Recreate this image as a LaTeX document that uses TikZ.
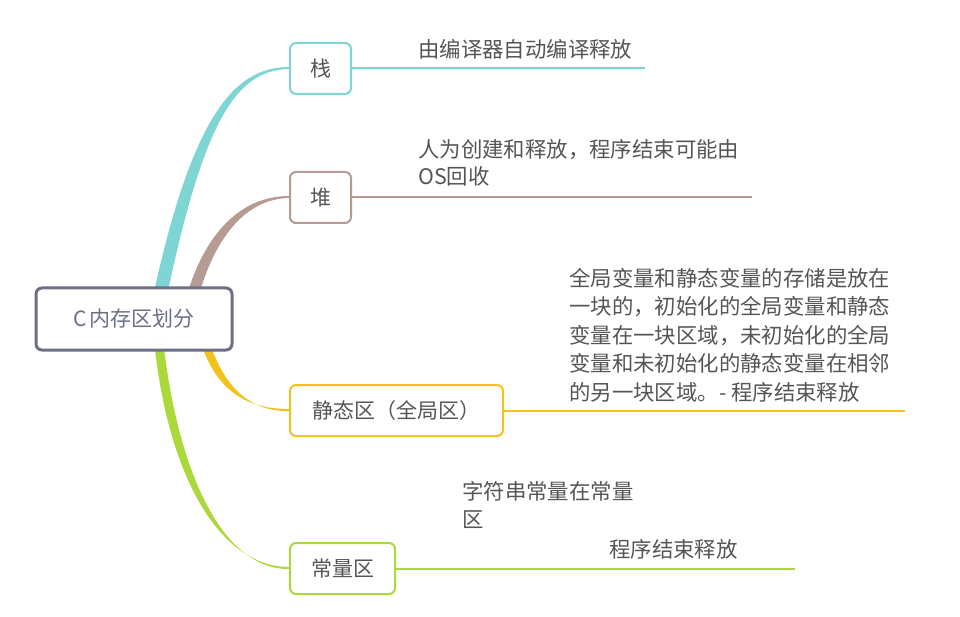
\documentclass[tikz,border=0pt]{standalone}
\usepackage{fontspec}
\setmainfont{Noto Sans CJK SC}
\usetikzlibrary{calc}
\definecolor{cteal}{HTML}{7FD5D3}
\definecolor{cbrown}{HTML}{B59B91}
\definecolor{cyellow}{HTML}{F2C31C}
\definecolor{cgreen}{HTML}{ABD83A}
\definecolor{croot}{HTML}{6C6F86}
\definecolor{ctext}{HTML}{555555}
\begin{document}
\begin{tikzpicture}[x=1pt,y=-1pt,
  box/.style={draw, line width=2pt, rounded corners=6pt, fill=white,
    minimum height=51pt, inner sep=0pt, text=ctext,
    font=\fontsize{21}{28}\selectfont},
  note/.style={inner sep=0pt, text=ctext, align=left,
    font=\fontsize{21.4}{28.4}\selectfont},
  branch/.style={line width=2pt}]
\useasboundingbox (0,0) rectangle (960,617);

% branches (tapered), drawn below the boxes
\fill[cteal] (150,310) .. controls (190,120) and (232,67) .. (289,67)
  -- (289,69) .. controls (234,70) and (202,125) .. (164,310) -- cycle;
\fill[cbrown] (183,310) .. controls (200,238) and (238,196) .. (289,196)
  -- (289,198) .. controls (243,199) and (211,242) .. (195,310) -- cycle;
\fill[cyellow] (197,330) .. controls (212,388) and (243,409) .. (289,409)
  -- (289,411) .. controls (248,412) and (220,384) .. (206,330) -- cycle;
\fill[cgreen] (153,330) .. controls (166,480) and (222,567) .. (289,567)
  -- (289,569) .. controls (226,570) and (177,480) .. (162,330) -- cycle;

% nodes
\node[box, draw=croot, line width=3pt, minimum width=196pt, minimum height=62pt,
  text=croot] (root) at (134,319) {C\,内存区划分};
\node[box, draw=cteal, minimum width=61pt] (stack) at (320.5,68.5) {栈};
\node[box, draw=cbrown, minimum width=61pt] (heap) at (320.5,197.5) {堆};
\node[box, draw=cyellow, minimum width=213pt] (static) at (396.5,410.5) {静态区（全局区）};
\node[box, draw=cgreen, minimum width=105pt] (const) at (342.5,568.5) {常量区};

% leaf lines
\coordinate (stackend) at (645,68.5);
\coordinate (heapend) at (752,197.5);
\coordinate (staticend) at (905,410.5);
\coordinate (constend) at (795,568.5);
\draw[branch, cteal] (stack.east) -- (stackend);
\draw[branch, cbrown] (heap.east) -- (heapend);
\draw[branch, cyellow] (static.east) -- (staticend);
\draw[branch, cgreen] (const.east) -- (constend);

% notes
\node[note, anchor=west] (stacknote) at (418,49) {由编译器自动编译释放};
\node[note, anchor=north west, font=\fontsize{21.4}{27.5}\selectfont] (heapnote) at (418,139)
  {人为创建和释放，程序结束可能由\\OS回收};
\node[note, anchor=north west] (staticnote) at (569,268)
  {全局变量和静态变量的存储是放在\\一块的，初始化的全局变量和静态\\变量在一块区域，未初始化的全局\\变量和未初始化的静态变量在相邻\\的另一块区域。- 程序结束释放};
\node[note, anchor=north west] (constnote) at (462,481)
  {字符串常量在常量\\区};
\node[note, anchor=west] (constnote2) at (609,549) {程序结束释放};
\end{tikzpicture}
\end{document}
